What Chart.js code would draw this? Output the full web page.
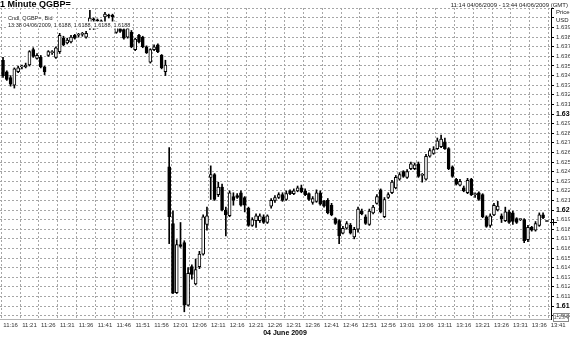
<!DOCTYPE html>
<html>
<head>
<meta charset="utf-8">
<script src="https://cdn.jsdelivr.net/npm/chart.js@4.4.0/dist/chart.umd.min.js"></script>
<style>
  html, body { margin: 0; padding: 0; background: #fff; }
  #chart { display: block; }
</style>
</head>
<body>
<canvas id="chart" width="570" height="338"></canvas>
<script>
// ============================
// Data: one candle per minute, starting at START_TIME
// ============================
const START_TIME = "11:14";
const DATE_TEXT = "04/06/2009";

const opens = [
  1.6356, 1.6344, 1.6338, 1.6330, 1.6344, 1.6349, 1.6349, 1.6351, 1.6367, 1.6358,
  1.6359, 1.6349, 1.6361, 1.6364, 1.6359, 1.6365, 1.6379, 1.6374, 1.6375, 1.6382,
  1.6382, 1.6383, 1.6380, 1.6390, 1.6399, 1.6398, 1.6397, 1.6401, 1.6403, 1.6403,
  1.6385, 1.6389, 1.6388, 1.6380, 1.6385, 1.6367, 1.6382, 1.6380, 1.6370, 1.6354,
  1.6367, 1.6372, 1.6361, 1.6344, 1.6245, 1.6186, 1.6114, 1.6164, 1.6166, 1.6101,
  1.6141, 1.6123, 1.6141, 1.6154, 1.6185, 1.6234, 1.6237, 1.6216, 1.6224, 1.6200,
  1.6194, 1.6214, 1.6215, 1.6218, 1.6213, 1.6202, 1.6184, 1.6189, 1.6189, 1.6193,
  1.6187, 1.6204, 1.6210, 1.6213, 1.6216, 1.6211, 1.6220, 1.6217, 1.6220, 1.6223,
  1.6220, 1.6217, 1.6208, 1.6209, 1.6218, 1.6209, 1.6210, 1.6205, 1.6191, 1.6189,
  1.6176, 1.6181, 1.6184, 1.6172, 1.6180, 1.6199, 1.6193, 1.6185, 1.6197, 1.6207,
  1.6221, 1.6193, 1.6213, 1.6218, 1.6223, 1.6232, 1.6240, 1.6234, 1.6243, 1.6243,
  1.6248, 1.6236, 1.6232, 1.6256, 1.6259, 1.6264, 1.6266, 1.6271, 1.6264, 1.6245,
  1.6232, 1.6226, 1.6223, 1.6218, 1.6232, 1.6216, 1.6218, 1.6216, 1.6193, 1.6184,
  1.6195, 1.6200, 1.6194, 1.6189, 1.6198, 1.6197, 1.6191, 1.6190, 1.6190, 1.6169,
  1.6182, 1.6179, 1.6184, 1.6195, 1.6188
];
const highs = [
  1.6359, 1.6345, 1.6340, 1.6348, 1.6350, 1.6351, 1.6353, 1.6366, 1.6369, 1.6363,
  1.6361, 1.6350, 1.6366, 1.6366, 1.6370, 1.6384, 1.6381, 1.6379, 1.6382, 1.6383,
  1.6384, 1.6385, 1.6386, 1.6408, 1.6400, 1.6399, 1.6398, 1.6406, 1.6404, 1.6404,
  1.6396, 1.6390, 1.6389, 1.6391, 1.6387, 1.6379, 1.6383, 1.6381, 1.6371, 1.6368,
  1.6372, 1.6373, 1.6362, 1.6356, 1.6265, 1.6199, 1.6169, 1.6187, 1.6168, 1.6140,
  1.6143, 1.6149, 1.6157, 1.6195, 1.6203, 1.6246, 1.6238, 1.6229, 1.6227, 1.6203,
  1.6220, 1.6218, 1.6217, 1.6220, 1.6214, 1.6203, 1.6192, 1.6196, 1.6196, 1.6195,
  1.6195, 1.6212, 1.6215, 1.6218, 1.6218, 1.6220, 1.6221, 1.6222, 1.6225, 1.6226,
  1.6222, 1.6218, 1.6214, 1.6221, 1.6220, 1.6210, 1.6212, 1.6207, 1.6192, 1.6190,
  1.6183, 1.6188, 1.6186, 1.6182, 1.6203, 1.6201, 1.6195, 1.6201, 1.6205, 1.6216,
  1.6222, 1.6213, 1.6218, 1.6231, 1.6236, 1.6239, 1.6241, 1.6242, 1.6250, 1.6249,
  1.6250, 1.6238, 1.6258, 1.6264, 1.6266, 1.6275, 1.6278, 1.6275, 1.6265, 1.6246,
  1.6233, 1.6232, 1.6225, 1.6233, 1.6233, 1.6218, 1.6219, 1.6217, 1.6194, 1.6196,
  1.6207, 1.6209, 1.6196, 1.6203, 1.6200, 1.6199, 1.6192, 1.6191, 1.6191, 1.6184,
  1.6183, 1.6188, 1.6197, 1.6197, 1.6188
];
const lows = [
  1.6338, 1.6335, 1.6329, 1.6327, 1.6343, 1.6347, 1.6348, 1.6350, 1.6359, 1.6357,
  1.6348, 1.6341, 1.6360, 1.6362, 1.6358, 1.6363, 1.6371, 1.6373, 1.6374, 1.6378,
  1.6380, 1.6381, 1.6379, 1.6388, 1.6388, 1.6389, 1.6390, 1.6395, 1.6400, 1.6390,
  1.6384, 1.6385, 1.6378, 1.6379, 1.6369, 1.6366, 1.6374, 1.6369, 1.6363, 1.6353,
  1.6366, 1.6364, 1.6347, 1.6340, 1.6165, 1.6113, 1.6113, 1.6161, 1.6094, 1.6100,
  1.6128, 1.6122, 1.6139, 1.6153, 1.6179, 1.6211, 1.6210, 1.6214, 1.6199, 1.6173,
  1.6193, 1.6205, 1.6212, 1.6204, 1.6198, 1.6183, 1.6183, 1.6182, 1.6187, 1.6186,
  1.6186, 1.6202, 1.6208, 1.6212, 1.6209, 1.6210, 1.6216, 1.6216, 1.6219, 1.6218,
  1.6215, 1.6210, 1.6206, 1.6208, 1.6205, 1.6203, 1.6196, 1.6194, 1.6185, 1.6165,
  1.6175, 1.6180, 1.6175, 1.6170, 1.6177, 1.6195, 1.6185, 1.6184, 1.6196, 1.6206,
  1.6197, 1.6192, 1.6212, 1.6217, 1.6222, 1.6231, 1.6234, 1.6233, 1.6242, 1.6242,
  1.6234, 1.6229, 1.6231, 1.6255, 1.6258, 1.6263, 1.6265, 1.6263, 1.6242, 1.6234,
  1.6226, 1.6225, 1.6219, 1.6217, 1.6215, 1.6213, 1.6210, 1.6192, 1.6182, 1.6182,
  1.6194, 1.6199, 1.6187, 1.6188, 1.6186, 1.6185, 1.6186, 1.6189, 1.6166, 1.6167,
  1.6178, 1.6178, 1.6183, 1.6191, 1.6188
];
const closes = [
  1.6340, 1.6336, 1.6331, 1.6347, 1.6348, 1.6349, 1.6351, 1.6365, 1.6360, 1.6361,
  1.6349, 1.6344, 1.6365, 1.6364, 1.6369, 1.6382, 1.6372, 1.6377, 1.6380, 1.6379,
  1.6382, 1.6383, 1.6384, 1.6400, 1.6398, 1.6397, 1.6396, 1.6404, 1.6402, 1.6401,
  1.6395, 1.6386, 1.6379, 1.6389, 1.6370, 1.6378, 1.6375, 1.6370, 1.6364, 1.6367,
  1.6370, 1.6365, 1.6348, 1.6351, 1.6193, 1.6114, 1.6164, 1.6162, 1.6101, 1.6134,
  1.6133, 1.6138, 1.6154, 1.6193, 1.6194, 1.6237, 1.6211, 1.6224, 1.6200, 1.6195,
  1.6218, 1.6210, 1.6213, 1.6205, 1.6205, 1.6184, 1.6190, 1.6194, 1.6194, 1.6187,
  1.6194, 1.6210, 1.6213, 1.6216, 1.6210, 1.6217, 1.6217, 1.6220, 1.6223, 1.6219,
  1.6216, 1.6211, 1.6212, 1.6218, 1.6206, 1.6204, 1.6197, 1.6195, 1.6186, 1.6173,
  1.6181, 1.6186, 1.6176, 1.6180, 1.6201, 1.6196, 1.6186, 1.6199, 1.6203, 1.6214,
  1.6198, 1.6211, 1.6216, 1.6229, 1.6234, 1.6237, 1.6235, 1.6240, 1.6248, 1.6247,
  1.6235, 1.6236, 1.6256, 1.6262, 1.6263, 1.6272, 1.6274, 1.6264, 1.6243, 1.6235,
  1.6227, 1.6230, 1.6220, 1.6231, 1.6216, 1.6216, 1.6211, 1.6193, 1.6183, 1.6194,
  1.6205, 1.6204, 1.6191, 1.6198, 1.6187, 1.6188, 1.6187, 1.6190, 1.6168, 1.6182,
  1.6179, 1.6186, 1.6195, 1.6192, 1.6188
];

const xTickLabels = [
  "11:16", "11:21", "11:26", "11:31", "11:36", "11:41", "11:46", "11:51", "11:56", "12:01",
  "12:06", "12:11", "12:16", "12:21", "12:26", "12:31", "12:36", "12:41", "12:46", "12:51",
  "12:56", "13:01", "13:06", "13:11", "13:16", "13:21", "13:26", "13:31", "13:36", "13:41"
];

// ============================
// Settings
// ============================
const FONT = "'Liberation Sans', Arial, sans-serif";
const GRID_COLOR = "#a6a6a6";
const TITLE_TEXT = "1 Minute QGBP=";
const RANGE_TEXT = "11:14 04/06/2009 - 13:44 04/06/2009 (GMT)";
const LEGEND_TEXT = "Cndl, QGBP=, Bid";
const X_TITLE = "04 June 2009";

// ============================
// Helpers
// ============================
function toMinutes(hhmm) {
    const [h, m] = hhmm.split(":").map(Number);
    return h * 60 + m;
}

function toHHMM(mins) {
    const h = Math.floor(mins / 60), m = mins % 60;
    return String(h).padStart(2, "0") + ":" + String(m).padStart(2, "0");
}

const t0 = toMinutes(START_TIME);
const xTickValues = xTickLabels.map(s => toMinutes(s) - t0);

function isMajor(v) {
    return Math.abs(v * 100 - Math.round(v * 100)) < 1e-6;
}

// scriptable options also get called without a tick
function tickIsMajor(c) {
    return !!(c && c.tick && isMajor(c.tick.value));
}

const wicks = opens.map((o, i) => ({ x: i, y: [lows[i], highs[i]] }));
const bodies = opens.map((o, i) => ({ x: i, y: [o, closes[i]] }));
const bodyFill = opens.map((o, i) => (closes[i] >= o ? "#ffffff" : "#000000"));

// ============================
// Texts round the plot (header, legend, axis extras)
// ============================
const overlay = {
    id: "overlay",
    afterDatasetsDraw(chart) {
        const { ctx } = chart;
        const last = opens.length - 1;
        const line2 = `${toHHMM(t0 + last)} ${DATE_TEXT}, ${opens[last].toFixed(4)}, ${highs[last].toFixed(4)}, ${lows[last].toFixed(4)}, ${closes[last].toFixed(4)}`;

        ctx.save();
        ctx.font = `5.5px ${FONT}`;
        ctx.textBaseline = "middle";
        ctx.textAlign = "left";
        const w1 = ctx.measureText(LEGEND_TEXT).width;
        const w2 = ctx.measureText(line2).width;
        ctx.fillStyle = "#fff";
        ctx.fillRect(7, 14.5, w1 + 2, 7);
        ctx.fillRect(7, 21.5, w2 + 2, 7);
        ctx.fillStyle = "#222";
        ctx.fillText(LEGEND_TEXT, 8, 18);
        ctx.fillText(line2, 8, 25);
        ctx.restore();
    },
    afterDraw(chart) {
        const { ctx, chartArea, scales } = chart;
        const W = chart.width;
        ctx.save();

        ctx.fillStyle = "#000";
        ctx.textBaseline = "top";
        ctx.textAlign = "left";
        ctx.font = `bold 9px ${FONT}`;
        ctx.fillText(TITLE_TEXT, 0, 0);

        ctx.font = `6px ${FONT}`;
        ctx.fillStyle = "#222";
        ctx.textAlign = "right";
        ctx.fillText(RANGE_TEXT, W - 2, 2);

        ctx.textAlign = "left";
        ctx.textBaseline = "middle";
        ctx.fillText("Price", chartArea.right + 5, 12);
        ctx.fillText("USD", chartArea.right + 5, 20);

        // small scale box at the foot of the price axis
        ctx.strokeStyle = "#888";
        ctx.lineWidth = 1;
        ctx.strokeRect(chartArea.right + 2.5, 313.5, 15, 8);
        ctx.fillStyle = "#666";
        ctx.textAlign = "center";
        ctx.fillText("1.234", chartArea.right + 10, 317.8);

        // last price marker on the axis
        const py = Math.round(scales.y.getPixelForValue(closes[closes.length - 1])) + 0.5;
        const px = chartArea.right + 2;
        ctx.strokeStyle = "#000";
        ctx.beginPath();
        ctx.moveTo(px - 3, py); ctx.lineTo(px + 4, py);
        ctx.moveTo(px + 0.5, py - 3); ctx.lineTo(px + 0.5, py + 3);
        ctx.stroke();

        ctx.fillStyle = "#000";
        ctx.font = `bold 7px ${FONT}`;
        ctx.textAlign = "center";
        ctx.fillText(X_TITLE, W / 2, 333);

        ctx.restore();
    }
};

// ============================
// Chart
// ============================
new Chart(document.getElementById("chart").getContext("2d"), {
    type: "bar",
    data: {
        datasets: [
            {
                label: "body", data: bodies,
                backgroundColor: bodyFill, borderColor: "#000", borderWidth: 1,
                borderSkipped: false, barThickness: 3, minBarLength: 1,
                grouped: false, order: 1
            },
            {
                label: "wick", data: wicks,
                backgroundColor: "#000", borderWidth: 0,
                barThickness: 1, minBarLength: 1,
                grouped: false, order: 2
            }
        ]
    },
    options: {
        responsive: false,
        animation: false,
        devicePixelRatio: 1,
        events: [],
        layout: { padding: { top: 8, left: 0, right: 0, bottom: 0 } },
        plugins: { legend: { display: false }, tooltip: { enabled: false } },
        scales: {
            x: {
                type: "linear",
                position: "bottom",
                min: -0.8,
                max: 145.1,
                offset: false,
                afterBuildTicks: (axis) => { axis.ticks = xTickValues.map(v => ({ value: v })); },
                afterFit: (axis) => { axis.height = 19; axis.paddingLeft = 0; axis.paddingRight = 0; },
                grid: { color: GRID_COLOR, drawTicks: false },
                border: { display: true, color: "#b5b5b5", dash: [2, 2] },
                ticks: {
                    autoSkip: false, maxRotation: 0, padding: 3,
                    color: "#333", font: { family: FONT, size: 6 },
                    callback: (v) => {
                        const k = xTickValues.indexOf(v);
                        return k >= 0 ? xTickLabels[k] : "";
                    }
                }
            },
            y: {
                position: "right",
                min: 1.60865,
                max: 1.64104,
                afterFit: (axis) => { axis.width = 19; axis.paddingTop = 0; axis.paddingBottom = 0; },
                grid: { color: GRID_COLOR, tickColor: "#000", tickLength: 3, tickBorderDash: [] },
                border: { display: true, color: "#000", dash: [2, 2] },
                ticks: {
                    stepSize: 0.001, autoSkip: false, includeBounds: false, padding: 2,
                    color: (c) => (tickIsMajor(c) ? "#000" : "#333"),
                    font: (c) => (tickIsMajor(c)
                        ? { family: FONT, size: 7, weight: "bold" }
                        : { family: FONT, size: 6 }),
                    callback: (v) => {
                        if (v > 1.6395) return "";
                        return isMajor(v) ? v.toFixed(2) : v.toFixed(3);
                    }
                }
            }
        }
    },
    plugins: [overlay]
});
</script>
</body>
</html>
